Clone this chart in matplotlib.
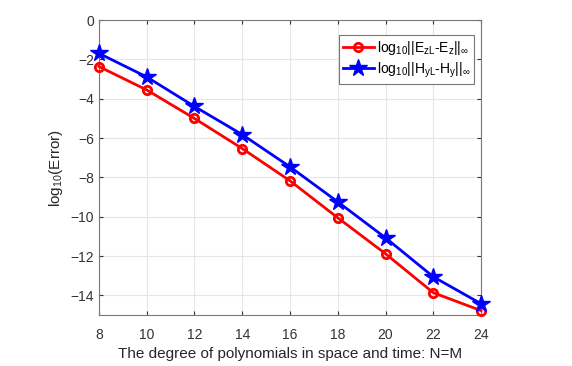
import numpy as np
import matplotlib.pyplot as plt

plt.rcParams["font.family"] = ["Liberation Sans", "DejaVu Sans"]
plt.rcParams["mathtext.fontset"] = "custom"
plt.rcParams["mathtext.rm"] = "Liberation Sans"
plt.rcParams["mathtext.it"] = "Liberation Sans"

# degree N=M
degree = [8, 10, 12, 14, 16, 18, 20, 22, 24]
# log10 of max errors
err_ez = [-2.36, -3.55, -5.0, -6.53, -8.17, -10.05, -11.88, -13.86, -14.77]
err_hy = [-1.69, -2.89, -4.39, -5.82, -7.46, -9.24, -11.07, -13.05, -14.42]

fig = plt.figure(figsize=(5.72, 3.66), dpi=100)
ax = fig.add_axes([0.173, 0.139, 0.668, 0.806])

ax.plot(degree, err_ez, color="red", lw=2, marker="o", ms=6, mfc="none", mew=2,
        clip_on=False, zorder=3,
        label=r"log$_{10}$||E$_{\rm zL}$-E$_{\rm z}$||$_\infty$")
ax.plot(degree, err_hy, color="blue", lw=2, marker="*", ms=13, clip_on=False,
        zorder=3, label=r"log$_{10}$||H$_{\rm yL}$-H$_{\rm y}$||$_\infty$")

ax.set_xlim(8, 24)
ax.set_ylim(-15, 0)
ax.set_xticks(range(8, 25, 2))
ax.set_yticks(range(-14, 1, 2))
ax.grid(True, color="#e6e6e6", lw=0.8)
ax.set_axisbelow(True)
for s in ax.spines.values():
    s.set_color("#777777")
    s.set_linewidth(0.8)
ax.tick_params(direction="in", colors="#333333", labelsize=10, length=3,
               top=True, right=True, labeltop=False, labelright=False)
ax.tick_params(axis="x", pad=9)
ax.set_xlabel("The degree of polynomials in space and time: N=M", fontsize=11,
              color="#262626")
ax.set_ylabel(r"log$_{10}$(Error)", fontsize=11, color="#262626")

leg = ax.legend(loc="upper right", bbox_to_anchor=(0.99, 0.96), fontsize=10,
                fancybox=False, framealpha=1, edgecolor="#777777",
                handlelength=2.2, borderpad=0.3, labelspacing=0.25,
                handletextpad=0.2, borderaxespad=0.2)
leg.get_frame().set_linewidth(0.8)

fig.savefig("out.png", dpi=100)
